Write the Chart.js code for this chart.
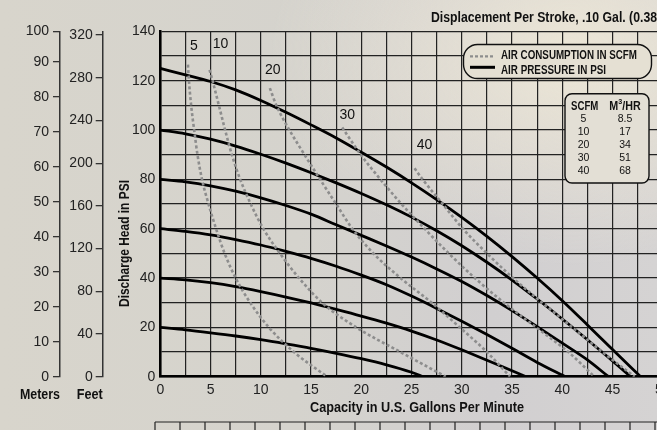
<!DOCTYPE html>
<html>
<head>
<meta charset="utf-8">
<script src="https://cdn.jsdelivr.net/npm/chart.js@4.4.0/dist/chart.umd.min.js"></script>
<style>
  html, body { margin: 0; padding: 0; width: 657px; height: 430px; overflow: hidden; }
  body {
    background:
      radial-gradient(ellipse 300px 210px at 570px 55px, #ece6d6 0%, rgba(236,230,214,0) 100%),
      linear-gradient(90deg, #d8d5cc 0%, #d5d3cd 45%, #d1cfd0 75%, #d5d3d3 100%);
  }
  #wrap { position: absolute; left: 0; top: 0; width: 690px; height: 430px; }
</style>
</head>
<body>
<div id="wrap"><canvas id="chart" width="690" height="430"></canvas></div>
<script>
const BOLD = "'Liberation Sans', Arial, sans-serif";
const REG = "'Liberation Sans', Arial, sans-serif";

// texts
const titleText = "Displacement Per Stroke, .10 Gal. (0.38 l)";
const xTitle = "Capacity in U.S. Gallons Per Minute";
const yTitle = "Discharge Head in PSI";
const airLabel = "AIR CONSUMPTION IN SCFM";
const pressureLabel = "AIR PRESSURE IN PSI";

// tick labels
const meterTicks = [0, 10, 20, 30, 40, 50, 60, 70, 80, 90, 100];
const feetTicks = [0, 40, 80, 120, 160, 200, 240, 280, 320];

// air pressure curves [gpm, psi]
const psi125 = [[0,125],[2.5,122.4],[5,119.7],[7.5,116.3],[10,112],[12.5,107.2],[15,102.1],[17.5,96.8],[20,91],[22.5,85],[25,78.6],[27.5,71.8],[30,64.6],[32.5,56.9],[35,48.7],[37.5,40],[40,30.8],[42.5,21],[45,11],[47.8,0]];
const psi100 = [[0,100],[2.5,98.5],[5,96.3],[7.5,93.5],[10,90.2],[12.5,86.6],[15,82.7],[17.5,78.6],[20,74.3],[22.5,69.7],[25,64.7],[27.5,59.2],[30,53.1],[32.5,46.4],[35,39.2],[37.5,31.5],[40,23.4],[42.5,15],[45,6.4],[46.8,0]];
const psi80 = [[0,80],[2.5,79],[5,77.4],[7.5,75.2],[10,72.5],[12.5,69.4],[15,65.9],[17.5,61.6],[20,57.3],[22.5,53],[25,48.5],[27.5,43.7],[30,38.6],[32.5,32.9],[35,26.8],[37.5,20.3],[40,13.6],[42.5,6.8],[44.6,0]];
const psi60 = [[0,60],[2.5,58.9],[5,57.5],[7.5,55.6],[10,53.4],[12.5,50.8],[15,48],[17.5,44.8],[20,41.2],[22.5,37.3],[25,32.7],[27.5,27.7],[30,22.5],[32.5,17.1],[35,11.5],[37.5,5.8],[40.3,0]];
const psi40 = [[0,40],[2.5,39.3],[5,38.1],[7.5,36.5],[10,34.5],[12.5,32.3],[15,29.9],[17.5,27.3],[20,24.6],[22.5,21.7],[25,18.5],[27.5,14.9],[30,10.9],[32.5,6.7],[35,2.4],[36.4,0]];
const psi20 = [[0,20],[2.5,19],[5,17.8],[7.5,16.5],[10,15],[12.5,13.3],[15,11.5],[17.5,9.5],[20,7.3],[22.5,4.8],[25,1.8],[26.2,0]];

// air consumption curves [gpm, psi]
const scfm5 = [[2.75,126.5],[2.85,120],[3.07,110],[3.37,100],[3.7,90],[4.15,80],[4.8,70],[5.55,60],[6.4,50],[7.5,40],[8.95,30],[10.8,20],[13.3,10],[16.6,0]];
const scfm10 = [[4.9,124.4],[5.2,120],[5.83,110],[6.45,100],[7.12,90],[7.95,80],[9,70],[10.25,60],[11.9,50],[13.8,40],[16.1,30],[19.5,20],[23.9,10],[28.4,0]];
const scfm20 = [[10.9,117],[11.55,110],[12.85,100],[14.35,90],[15.9,80],[17.5,70],[19.1,60],[21.2,50],[23.9,40],[27,30],[29.8,20],[32.5,10],[34.8,0]];
const scfm30 = [[18.1,101],[19.95,90],[21.9,80],[24,70],[26.3,60],[28.7,50],[31.3,40],[34.2,30],[37.4,20],[40.6,10],[43.2,0]];
const scfm40 = [[25.3,84.5],[26.1,80],[28.1,70],[30.1,60],[32.5,50],[35.1,40],[38,30],[41,20],[44,10],[47.2,0]];

// conversion table
const scfmValues = [5, 10, 20, 30, 40];
const m3hrValues = [8.5, 17, 34, 51, 68];

const pressureSeries = [psi125, psi100, psi80, psi60, psi40, psi20];
const airSeries = [scfm5, scfm10, scfm20, scfm30, scfm40];

const toPoints = (arr) => arr.map(([x, y]) => ({ x, y }));

const datasets = [];
airSeries.forEach((d, i) => {
  datasets.push({
    label: airLabel + " " + scfmValues[i],
    data: toPoints(d),
    borderColor: "#8d8d8d",
    borderWidth: 2.6,
    borderDash: [3, 2.4],
    pointRadius: 0,
    cubicInterpolationMode: "monotone",
    fill: false,
  });
});
pressureSeries.forEach((d) => {
  datasets.push({
    label: pressureLabel,
    data: toPoints(d),
    borderColor: "#000",
    borderWidth: 2.8,
    pointRadius: 0,
    cubicInterpolationMode: "monotone",
    fill: false,
  });
});

function roundRect(c, x, y, w, h, r) {
  c.beginPath();
  c.moveTo(x + r, y);
  c.lineTo(x + w - r, y);
  c.arcTo(x + w, y, x + w, y + r, r);
  c.lineTo(x + w, y + h - r);
  c.arcTo(x + w, y + h, x + w - r, y + h, r);
  c.lineTo(x + r, y + h);
  c.arcTo(x, y + h, x, y + h - r, r);
  c.lineTo(x, y + r);
  c.arcTo(x, y, x + r, y, r);
  c.closePath();
}

// condensed bold text: squeeze horizontally so that `fitPart` is `width` px wide
function narrowText(c, text, x, y, size, width, align, fitPart, rot) {
  c.save();
  c.font = `bold ${size}px ${BOLD}`;
  const sx = width / c.measureText(fitPart || text).width;
  c.translate(x, y);
  if (rot) c.rotate(rot);
  c.scale(sx, 1);
  c.textAlign = align;
  c.fillText(text, 0, 0);
  c.restore();
}

const decor = {
  id: "decor",
  afterDraw(chart) {
    const c = chart.ctx;
    const xs = chart.scales.x, ys = chart.scales.y;
    c.save();
    c.fillStyle = "#111";
    c.textBaseline = "middle";

    narrowText(c, titleText, 431, 18, 14, 226, "left", "Displacement Per Stroke, .10 Gal. (0.38");
    narrowText(c, yTitle, 125, 243.5, 14, 127, "center", null, -Math.PI / 2);
    narrowText(c, xTitle, 417, 408, 14.5, 214, "center");
    narrowText(c, "Meters", chart.scales.meters.right, 395, 14, 40, "right");
    narrowText(c, "Feet", chart.scales.feet.right, 395, 14, 26, "right");

    // curve labels
    const offs = [[6, -19], [11, -26], [3, -18], [5, -12], [10, -23]];
    c.font = `14px ${REG}`;
    c.textAlign = "center";
    airSeries.forEach((d, i) => {
      c.fillText(String(scfmValues[i]), xs.getPixelForValue(d[0][0]) + offs[i][0], ys.getPixelForValue(d[0][1]) + offs[i][1]);
    });

    // legend
    roundRect(c, 463.5, 44.5, 188, 34, 14);
    c.fillStyle = "#e5e0d3";
    c.fill();
    c.strokeStyle = "#111";
    c.lineWidth = 1.4;
    c.stroke();
    c.beginPath();
    c.setLineDash([3, 2]);
    c.strokeStyle = "#8d8d8d";
    c.lineWidth = 2.2;
    c.moveTo(470, 56.3); c.lineTo(495, 56.3);
    c.stroke();
    c.setLineDash([]);
    c.beginPath();
    c.strokeStyle = "#000";
    c.lineWidth = 3;
    c.moveTo(470, 67.3); c.lineTo(495, 67.3);
    c.stroke();
    c.fillStyle = "#111";
    narrowText(c, airLabel, 501, 55.3, 12.5, 136, "left");
    narrowText(c, pressureLabel, 501, 70.3, 12.5, 105, "left");

    // table
    roundRect(c, 565, 93.7, 84, 89.3, 7);
    c.fillStyle = "#e3dfd5";
    c.fill();
    c.strokeStyle = "#111";
    c.lineWidth = 1.4;
    c.stroke();
    c.fillStyle = "#111";
    narrowText(c, "SCFM", 584.7, 106.5, 12, 27.3, "center");
    // M3/HR with raised 3
    c.font = `bold 12px ${BOLD}`;
    const mW = c.measureText("M").width, hW = c.measureText("/HR").width;
    c.font = `bold 8px ${BOLD}`;
    const tW = c.measureText("3").width;
    const sx = 31.4 / (mW + tW + hW);
    c.save();
    c.translate(625 - 15.7, 0);
    c.scale(sx, 1);
    c.textAlign = "left";
    c.font = `bold 12px ${BOLD}`;
    c.fillText("M", 0, 106.5);
    c.fillText("/HR", mW + tW, 106.5);
    c.font = `bold 8px ${BOLD}`;
    c.fillText("3", mW, 101.8);
    c.restore();
    c.textAlign = "center";
    c.font = `10.5px ${REG}`;
    scfmValues.forEach((v, i) => {
      const y = 118.9 + i * 13.15;
      c.fillText(String(v), 583.5, y);
      c.fillText(String(m3hrValues[i]), 625, y);
    });

    // edge of the next table, cut off at the bottom
    c.strokeStyle = "#222";
    c.lineWidth = 1.2;
    c.beginPath();
    c.moveTo(155, 422); c.lineTo(690, 422);
    for (let x = 155; x < 690; x += 25) { c.moveTo(x, 422); c.lineTo(x, 430); }
    c.stroke();
    c.restore();
  },
};

const tickFont = { family: REG, size: 14 };

new Chart(document.getElementById("chart").getContext("2d"), {
  type: "line",
  data: { datasets },
  plugins: [decor],
  options: {
    responsive: false,
    animation: false,
    layout: { padding: { top: 31.4, right: 27.2, bottom: 14.3, left: 0 } },
    plugins: { legend: { display: false }, tooltip: { enabled: false }, title: { display: false } },
    scales: {
      x: {
        type: "linear",
        min: 0,
        max: 50,
        ticks: { stepSize: 2.5, autoSkip: false, maxRotation: 0, padding: 5, color: "#222", font: tickFont,
          callback: (v) => (v % 5 === 0 ? v : "") },
        grid: { color: "#222", lineWidth: 1.2, drawTicks: false },
        border: { color: "#000", width: 2.5 },
        afterFit: (s) => { s.height = 39; },
      },
      y: {
        type: "linear",
        position: "left",
        weight: 0,
        min: 0,
        max: 140,
        ticks: { stepSize: 10, padding: 5, color: "#222", font: tickFont,
          callback: (v) => (v % 20 === 0 ? v : "") },
        grid: { color: "#222", lineWidth: 1.2, drawTicks: false },
        border: { color: "#000", width: 2.5 },
        afterFit: (s) => { s.width = 57.6; },
      },
      feet: {
        type: "linear",
        position: "left",
        weight: 1,
        min: 0,
        max: 140 * 2.31,
        afterBuildTicks: (s) => { s.ticks = feetTicks.map((v) => ({ value: v })); },
        ticks: { padding: 3, color: "#222", font: tickFont, callback: (v, i) => feetTicks[i] },
        grid: { drawOnChartArea: false, drawTicks: true, tickLength: 7, color: "#333", lineWidth: 1.3 },
        border: { color: "#333", width: 1.5 },
        afterFit: (s) => { s.width = 42.7; },
      },
      meters: {
        type: "linear",
        position: "left",
        weight: 2,
        min: 0,
        max: 140 * 0.7047,
        afterBuildTicks: (s) => { s.ticks = meterTicks.map((v) => ({ value: Math.min(v, s.max) })); },
        ticks: { padding: 4, color: "#222", font: tickFont, callback: (v, i) => meterTicks[i] },
        grid: { drawOnChartArea: false, drawTicks: true, tickLength: 7, color: "#333", lineWidth: 1.3 },
        border: { color: "#333", width: 1.5 },
        afterFit: (s) => { s.width = 60; },
      },
    },
  },
});
</script>
</body>
</html>
